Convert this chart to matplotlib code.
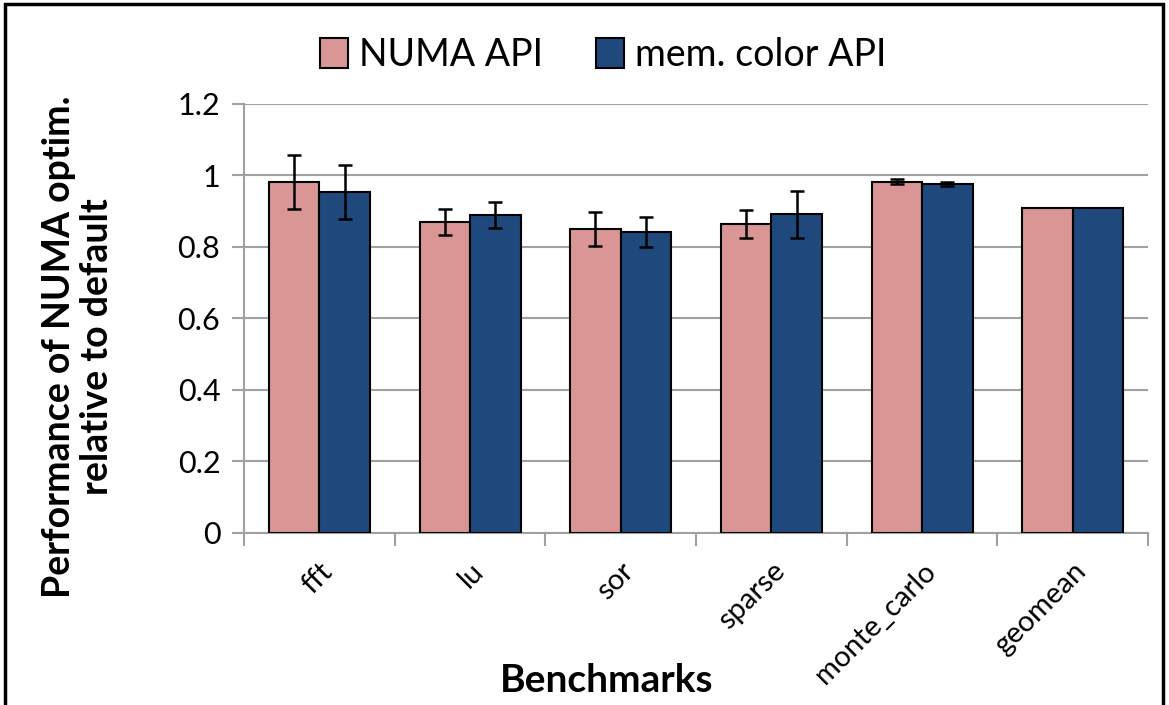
import matplotlib.pyplot as plt
import matplotlib.patches as mpatches
import numpy as np

plt.rcParams['font.family'] = ['Lato', 'DejaVu Sans']

# datos
benchmarks = ["fft", "lu", "sor", "sparse", "monte_carlo", "geomean"]
numa_api = [0.982, 0.870, 0.851, 0.864, 0.983, 0.908]
numa_err = [0.076, 0.036, 0.048, 0.039, 0.007, 0.0]
color_api = [0.953, 0.890, 0.842, 0.891, 0.976, 0.908]
color_err = [0.075, 0.037, 0.041, 0.066, 0.005, 0.0]
yticks = [0, 0.2, 0.4, 0.6, 0.8, 1.0, 1.2]
ytick_labels = ["0", "0.2", "0.4", "0.6", "0.8", "1", "1.2"]

fig = plt.figure(figsize=(11.69, 7.05), dpi=100)
ax = fig.add_axes([0.2087, 0.2440, 0.7735, 0.6085])

x = np.arange(len(benchmarks)) + 0.5
w = 0.335
gris = "#a0a0a0"
ax.bar(x - w / 2, numa_api, w, color="#d99694", edgecolor="black", linewidth=1.5,
       label="NUMA API", zorder=3)
ax.bar(x + w / 2, color_api, w, color="#1f497d", edgecolor="black", linewidth=1.5,
       label="mem. color API", zorder=3)
for xs, vals, errs in [(x - w / 2, numa_api, numa_err), (x + w / 2, color_api, color_err)]:
    for xi, v, e in zip(xs, vals, errs):
        if e > 0:
            ax.errorbar(xi, v, yerr=e, fmt="none", ecolor="black", elinewidth=1.8,
                        capsize=5, capthick=1.8, zorder=4)

ax.set_xlim(0, len(benchmarks))
ax.set_ylim(0, 1.2)
ax.set_yticks(yticks)
ax.set_yticklabels(ytick_labels, fontsize=22)
ax.set_xticks(np.arange(len(benchmarks) + 1))
ax.set_xticklabels([])
ax.set_xticks(x, minor=True)
ax.set_xticklabels(benchmarks, minor=True, rotation=45, ha="right", va="top",
                   rotation_mode="anchor", fontsize=21)
ax.tick_params(axis="x", which="minor", length=0, pad=18)
ax.tick_params(axis="x", which="major", length=9, color=gris, width=1.5)
ax.tick_params(axis="y", length=9, color=gris, width=1.5, pad=8)
ax.yaxis.grid(True, color=gris, linewidth=1.5, zorder=0)
ax.set_axisbelow(True)
for s in ["top", "right"]:
    ax.spines[s].set_visible(False)
for s in ["left", "bottom"]:
    ax.spines[s].set_color(gris)
    ax.spines[s].set_linewidth(1.5)

fig.text(78 / 1169, 1 - 347 / 705, "Performance of NUMA optim.\nrelative to default",
         fontsize=27, fontweight="bold", rotation=90, ha="center", va="center",
         linespacing=1.15)
fig.text(0.519, 0.035, "Benchmarks", fontsize=28, fontweight="bold", ha="center", va="center")

fig.legend(loc="center", bbox_to_anchor=(0.516, 0.922), ncol=2, frameon=False,
           fontsize=27, handlelength=0.75, handleheight=0.85, handletextpad=0.3,
           columnspacing=1.4)

# borde de la figura
fig.patches.append(mpatches.Rectangle((0.004, -0.05), 0.991, 1.044, transform=fig.transFigure,
                                      fill=False, edgecolor="black", linewidth=2.5))

fig.savefig("out.png", dpi=100)
